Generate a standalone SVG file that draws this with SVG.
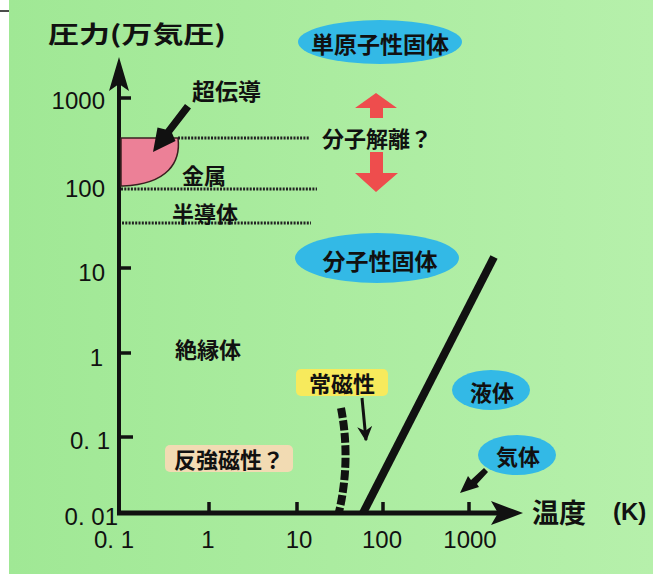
<svg xmlns="http://www.w3.org/2000/svg" width="653" height="574" viewBox="0 0 653 574">
<defs>
<linearGradient id="bg" x1="0" y1="0" x2="1" y2="0">
<stop offset="0" stop-color="#a0e895"/>
<stop offset="1" stop-color="#b6f0ab"/>
</linearGradient>
<marker id="ah" viewBox="0 0 10 10" refX="9" refY="5" markerWidth="5" markerHeight="5" orient="auto">
<path d="M0,0 L10,5 L0,10 L3,5 Z" fill="#111"/>
</marker>
</defs>
<style>
.jp{font-family:"Noto Sans CJK JP","Noto Sans CJK SC",sans-serif;font-weight:bold;fill:#111;dominant-baseline:central}
.num{font-family:"Liberation Sans",Arial,sans-serif;fill:#111;font-size:24px;dominant-baseline:central}
.dot{stroke:#222;stroke-width:3;stroke-dasharray:2 1.3;fill:none}
.ell{fill:#33b9e6}
.tick{stroke:#111;stroke-width:3.5}
</style>
<rect x="0" y="0" width="653" height="574" fill="#ffffff"/>
<rect x="9" y="0" width="644" height="574" fill="url(#bg)"/>
<line x1="0" y1="11" x2="9" y2="11" stroke="#111" stroke-width="1.5"/>

<text class="jp" x="48" y="32" font-size="24" textLength="178" lengthAdjust="spacingAndGlyphs">圧力(万気圧)</text>

<g id="axes">
<line x1="119" y1="80" x2="119" y2="515" stroke="#111" stroke-width="4"/>
<path d="M119,57 L129,91 L119,84 L109,91 Z" fill="#111"/>
<line x1="117" y1="513" x2="500" y2="513" stroke="#111" stroke-width="5"/>
<path d="M523,513 L491,501 L498,513 L491,525 Z" fill="#111"/>
<line class="tick" x1="120" y1="98" x2="131" y2="98"/>
<line class="tick" x1="120" y1="268" x2="131" y2="268"/>
<line class="tick" x1="120" y1="353" x2="131" y2="353"/>
<line class="tick" x1="120" y1="437" x2="133" y2="437"/>
<line class="tick" x1="209" y1="502" x2="209" y2="513"/>
<line class="tick" x1="297" y1="502" x2="297" y2="513"/>
<line class="tick" x1="383" y1="502" x2="383" y2="513"/>
<line class="tick" x1="469" y1="502" x2="469" y2="513"/>
<text class="num" x="105" y="100" text-anchor="end">1000</text>
<text class="num" x="105" y="188" text-anchor="end">100</text>
<text class="num" x="105" y="272" text-anchor="end">10</text>
<text class="num" x="103" y="357" text-anchor="end">1</text>
<text class="num" x="110" y="440" text-anchor="end">0. 1</text>
<text class="num" x="118" y="516" text-anchor="end">0. 01</text>
<text class="num" x="114" y="539" text-anchor="middle">0. 1</text>
<text class="num" x="208" y="539" text-anchor="middle">1</text>
<text class="num" x="299" y="539" text-anchor="middle">10</text>
<text class="num" x="382" y="539" text-anchor="middle">100</text>
<text class="num" x="470" y="539" text-anchor="middle">1000</text>
<text class="jp" x="532" y="511" font-size="27">温度</text>
<text class="num" x="613" y="511" font-size="27" font-weight="bold">(K)</text>
</g>

<g id="superconductor">
<path d="M121,138 L178,138 C181,162 168,184 123,186 L121,186 Z" fill="#ec8097" stroke="#3a2020" stroke-width="1.5"/>
<text class="jp" x="192" y="90" font-size="23">超伝導</text>
<path d="M185,104 L191,108.5 L172,133 L175.5,141 L153,152 L157.5,127.5 L165.5,129.5 Z" fill="#111"/>
</g>

<g id="boundaries">
<line class="dot" x1="178" y1="138" x2="309" y2="138"/>
<line class="dot" x1="121" y1="189" x2="317" y2="189"/>
<line class="dot" x1="122" y1="223" x2="311" y2="223"/>
</g>

<g id="metal"><text class="jp" x="182" y="174" font-size="22">金属</text></g>
<g id="semiconductor"><text class="jp" x="172" y="212" font-size="22">半導体</text></g>
<g id="insulator"><text class="jp" x="175" y="348" font-size="22">絶縁体</text></g>

<g id="monatomic-solid">
<ellipse class="ell" cx="380" cy="42" rx="82" ry="22"/>
<text class="jp" x="380" y="43" font-size="23" text-anchor="middle">単原子性固体</text>
</g>

<g id="dissociation">
<path d="M376,93 L397,108 L383,108 L383,118 L370,118 L370,108 L355,108 Z" fill="#ee4d4d"/>
<path d="M370,152 L383,152 L383,173 L398,173 L376,192 L355,173 L370,173 Z" fill="#ee4d4d"/>
<text class="jp" x="322" y="137" font-size="22">分子解離？</text>
</g>

<g id="molecular-solid">
<ellipse class="ell" cx="377" cy="258" rx="82" ry="25"/>
<text class="jp" x="380" y="260" font-size="23" text-anchor="middle">分子性固体</text>
</g>

<g id="connectors">
<line x1="363" y1="513" x2="494" y2="257" stroke="#111" stroke-width="8"/>
<path d="M341,408 Q351,460 339,512" fill="none" stroke="#111" stroke-width="8" stroke-dasharray="10 2.5"/>
<line x1="362" y1="398" x2="366" y2="440" stroke="#111" stroke-width="3" marker-end="url(#ah)"/>
<path d="M460,493 L468,476 L471,480 L484,468 L488,472 L477,484 L479,487 Z" fill="#111"/>
</g>

<g id="paramagnetic">
<rect x="296" y="369" width="92" height="27" rx="5" fill="#f7ea5c"/>
<text class="jp" x="342" y="382" font-size="22" text-anchor="middle">常磁性</text>
</g>

<g id="antiferro">
<rect x="165" y="445" width="128" height="27" rx="5" fill="#f2dbb3"/>
<text class="jp" x="229" y="458" font-size="22" text-anchor="middle">反強磁性？</text>
</g>

<g id="liquid">
<ellipse class="ell" cx="491" cy="390" rx="39" ry="20"/>
<text class="jp" x="492" y="391" font-size="22" text-anchor="middle">液体</text>
</g>

<g id="gas">
<ellipse class="ell" cx="517" cy="455" rx="39" ry="20"/>
<text class="jp" x="518" y="455" font-size="22" text-anchor="middle">気体</text>
</g>
</svg>
